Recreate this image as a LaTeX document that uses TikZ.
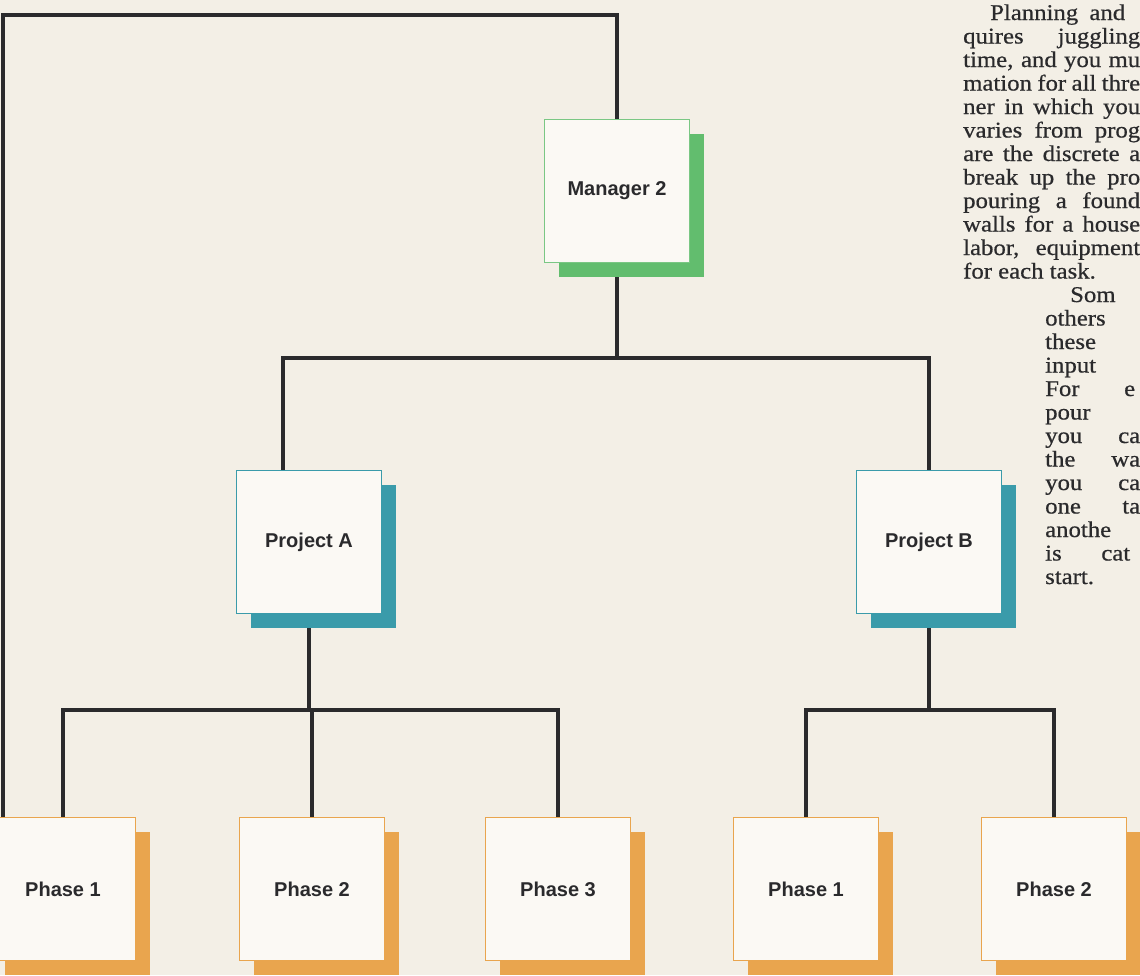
\documentclass[tikz,border=0pt]{standalone}
\usepackage{fontspec}
\setmainfont{Liberation Serif}[FakeStretch=1.1, FakeBold=0.6]
\newfontfamily\labfont{Liberation Sans}
\usetikzlibrary{shadows}
\pgfdeclarelayer{paperlayer}
\pgfdeclarelayer{background}
\pgfsetlayers{paperlayer,background,main}
\definecolor{paper}{HTML}{F3EFE6}
\definecolor{boxfill}{HTML}{FBF9F4}
\definecolor{ink}{HTML}{2A2A2C}
\definecolor{mgrgreen}{HTML}{62BD6E}
\definecolor{projteal}{HTML}{3A9BAA}
\definecolor{phaseorange}{HTML}{E9A54E}
\begin{document}
\begin{tikzpicture}[x=1pt,y=-1pt,
  card/.style={rectangle, minimum width=145pt, minimum height=143pt, inner sep=0pt,
    line width=1.4pt, fill=boxfill, text=ink,
    font=\labfont\bfseries\fontsize{20}{24}\selectfont},
  mgrcard/.style={card, draw=mgrgreen!85,
    drop shadow={shadow xshift=14pt, shadow yshift=-14pt, opacity=1, fill=mgrgreen}},
  projcard/.style={card, draw=projteal,
    drop shadow={shadow xshift=14pt, shadow yshift=-14pt, opacity=1, fill=projteal}},
  phasecard/.style={card, draw=phaseorange,
    drop shadow={shadow xshift=14pt, shadow yshift=-14pt, opacity=1, fill=phaseorange}},
  conn/.style={draw=ink, line width=4pt},
  body/.style={anchor=base west, inner sep=0pt, text=ink,
    font=\fontsize{22.5}{24}\selectfont}
]
\useasboundingbox (0,0) rectangle (1140,975);
\begin{pgfonlayer}{paperlayer}
\fill[paper] (0,0) rectangle (1140,975);
\end{pgfonlayer}

% boxes
\node[mgrcard]   (mgr) at (617,191) {Manager 2};
\node[projcard]  (pA)  at (309,542) {Project A};
\node[projcard]  (pB)  at (929,542) {Project B};
\node[phasecard] (ph1) at (63,889)   {Phase 1};
\node[phasecard] (ph2) at (312,889)  {Phase 2};
\node[phasecard] (ph3) at (558,889)  {Phase 3};
\node[phasecard] (ph4) at (806,889)  {Phase 1};
\node[phasecard] (ph5) at (1054,889) {Phase 2};

% junctions
\coordinate (tl) at (3,15);
\coordinate (jA) at (283,358);
\coordinate (jB) at (929,358);
\coordinate (kA) at (309,710);
\coordinate (kB) at (929,710);

\begin{pgfonlayer}{background}
\draw[conn] (mgr) |- (tl) -- (tl |- ph1);
\draw[conn] (mgr) -- (mgr |- jA);
\draw[conn] (pA.north -| jA) -- (jA) -- (jB) -- (pB);
\draw[conn] (pA) -- (kA);
\draw[conn] (ph1) |- (kA) -| (ph3);
\draw[conn] (ph2) -- (ph2 |- kA);
\draw[conn] (pB) -- (kB);
\draw[conn] (ph4) |- (kB) -| (ph5);
\end{pgfonlayer}

% article text (cut off at the right edge)
\node[body] (t1)  at (990,20)    {\makebox[135pt][s]{Planning and}};
\node[body] (t2)  at (963,43.5)  {\makebox[177pt][s]{quires juggling}};
\node[body] (t3)  at (963,67)    {\makebox[177pt][s]{time, and you mu}};
\node[body] (t4)  at (963,90.5)  {\makebox[177pt][s]{mation for all thre}};
\node[body] (t5)  at (963,114)   {\makebox[177pt][s]{ner in which you}};
\node[body] (t6)  at (963,137.5) {\makebox[177pt][s]{varies from prog}};
\node[body] (t7)  at (963,161)   {\makebox[177pt][s]{are the discrete a}};
\node[body] (t8)  at (963,184.5) {\makebox[177pt][s]{break up the pro}};
\node[body] (t9)  at (963,208)   {\makebox[177pt][s]{pouring a found}};
\node[body] (t10) at (963,231.5) {\makebox[177pt][s]{walls for a house}};
\node[body] (t11) at (963,255)   {\makebox[177pt][s]{labor, equipment}};
\node[body] (t12) at (963,278.5) {for each task.};
\node[body] (t13) at (1070,302)  {Som};
\node[body] (t14) at (1045,325.5) {others};
\node[body] (t15) at (1045,349)  {these};
\node[body] (t16) at (1045,372.5) {input};
\node[body] (t17) at (1045,396)  {\makebox[90pt][s]{For e}};
\node[body] (t18) at (1045,419.5) {pour};
\node[body] (t19) at (1045,443)  {\makebox[95pt][s]{you ca}};
\node[body] (t20) at (1045,466.5) {\makebox[95pt][s]{the wa}};
\node[body] (t21) at (1045,490)  {\makebox[95pt][s]{you ca}};
\node[body] (t22) at (1045,513.5) {\makebox[95pt][s]{one ta}};
\node[body] (t23) at (1045,537)  {anothe};
\node[body] (t24) at (1045,560.5) {\makebox[85pt][s]{is cat}};
\node[body] (t25) at (1045,584)  {start.};
\end{tikzpicture}
\end{document}
